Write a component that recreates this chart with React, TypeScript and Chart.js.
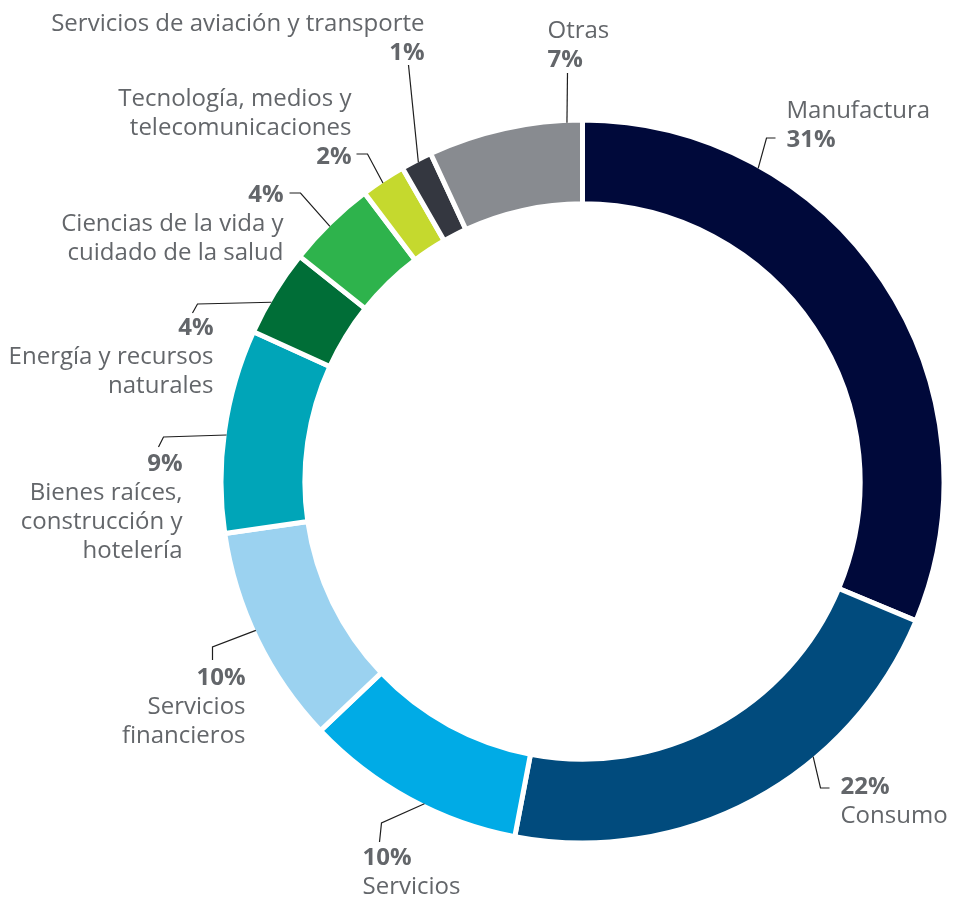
import { useEffect, useRef } from "react";
import { Chart, registerables } from "chart.js";

Chart.register(...registerables);

// ---- data ----
const categories: string[][] = [
  ["Manufactura"],
  ["Consumo"],
  ["Servicios"],
  ["Servicios", "financieros"],
  ["Bienes raíces,", "construcción y", "hotelería"],
  ["Energía y recursos", "naturales"],
  ["Ciencias de la vida y", "cuidado de la salud"],
  ["Tecnología, medios y", "telecomunicaciones"],
  ["Servicios de aviación y transporte"],
  ["Otras"],
];
// slice sizes (shown rounded as whole percents)
const shares: number[] = [31.3, 21.7, 9.9, 9.8, 9.1, 3.9, 4.0, 2.0, 1.4, 6.9];
const sliceColors: string[] = [
  "#00093a",
  "#014b7d",
  "#00abe6",
  "#9bd2f0",
  "#00a5b8",
  "#006e37",
  "#2eb34c",
  "#c5d92e",
  "#343740",
  "#888b90",
];

// ---- label layout (offsets relative to the doughnut centre) ----
type LabelLayout = {
  frac: number; // where along the slice the leader starts
  path: [number, number][]; // leader elbow / end points
  x: number; // text anchor x
  align: CanvasTextAlign;
  pctFirst: boolean;
  y: number; // first baseline
};
const labelLayout: LabelLayout[] = [
  { frac: 0.26, path: [[184, -343.5], [193, -343.5]], x: 204, align: "left", pctFirst: false, y: -363.5 },
  { frac: 0.35, path: [[238, 306.5], [247, 306.5]], x: 258, align: "left", pctFirst: true, y: 312.5 },
  { frac: 0.43, path: [[-201, 341.5], [-203, 360.5]], x: -220, align: "left", pctFirst: true, y: 383.5 },
  { frac: 0.54, path: [[-370, 165.5], [-370, 178.5]], x: -337, align: "right", pctFirst: true, y: 203.5 },
  { frac: 0.48, path: [[-419, -44.5], [-424, -34.5]], x: -400, align: "right", pctFirst: true, y: -10.5 },
  { frac: 0.39, path: [[-385, -177.5], [-390, -168.5]], x: -369, align: "right", pctFirst: true, y: -146.5 },
  { frac: 0.47, path: [[-282, -288.5], [-293, -288.5]], x: -299, align: "right", pctFirst: true, y: -279.5 },
  { frac: 0.46, path: [[-215, -327.5], [-226, -327.5]], x: -231, align: "right", pctFirst: false, y: -375.5 },
  { frac: 0.53, path: [[-174, -416.5]], x: -158, align: "right", pctFirst: false, y: -450.5 },
  { frac: 0.9, path: [[-15, -408.5]], x: -35, align: "left", pctFirst: false, y: -443.5 },
];

const TEXT_COLOR = "#63666a";
const FONT_SIZE = 24;
const LINE_H = 29;
const BORDER = 5;

const labelPlugin = {
  id: "leaderLabels",
  afterDraw(chart: any) {
    const ctx: CanvasRenderingContext2D = chart.ctx;
    const meta = chart.getDatasetMeta(0);
    ctx.save();
    meta.data.forEach((arc: any, i: number) => {
      const p = arc.getProps(["x", "y", "startAngle", "endAngle", "outerRadius"], true);
      const lay = labelLayout[i];
      const a = p.startAngle + lay.frac * (p.endAngle - p.startAngle);
      const r = p.outerRadius - BORDER / 2;
      ctx.beginPath();
      ctx.moveTo(p.x + Math.cos(a) * r, p.y + Math.sin(a) * r);
      lay.path.forEach(([dx, dy]) => ctx.lineTo(p.x + dx, p.y + dy));
      ctx.strokeStyle = "#1e1e1e";
      ctx.lineWidth = 1.2;
      ctx.stroke();

      const pct = { text: `${Math.round(shares[i])}%`, bold: true };
      const names = categories[i].map((t) => ({ text: t, bold: false }));
      const lines = lay.pctFirst ? [pct, ...names] : [...names, pct];
      ctx.fillStyle = TEXT_COLOR;
      ctx.textAlign = lay.align;
      ctx.textBaseline = "alphabetic";
      lines.forEach((ln, k) => {
        ctx.font = `${ln.bold ? "700" : "400"} ${FONT_SIZE}px "Open Sans"`;
        ctx.fillText(ln.text, p.x + lay.x, p.y + lay.y + k * LINE_H);
      });
    });
    ctx.restore();
  },
};

export default function App() {
  const ref = useRef<HTMLCanvasElement | null>(null);
  useEffect(() => {
    if (!ref.current) return;
    const chart = new Chart(ref.current, {
      type: "doughnut",
      data: {
        labels: categories.map((c) => c.join(" ")),
        datasets: [
          {
            data: shares,
            backgroundColor: sliceColors,
            borderColor: "#ffffff",
            borderWidth: BORDER,
            hoverBorderWidth: BORDER,
            hoverOffset: 0,
            offset: 0,
          },
        ],
      },
      options: {
        responsive: false,
        maintainAspectRatio: false,
        animation: false,
        cutout: "76.8%",
        layout: { padding: { left: 218.5, right: 6.5, top: 117.5, bottom: 55.5 } },
        plugins: { legend: { display: false }, tooltip: { enabled: false } },
        events: [],
      },
      plugins: [labelPlugin],
    });
    return () => chart.destroy();
  }, []);
  return (
    <div style={{ position: "absolute", left: 0, top: 0, width: 953, height: 901, background: "#fff" }}>
      <canvas ref={ref} width={953} height={901} style={{ display: "block" }} />
    </div>
  );
}
